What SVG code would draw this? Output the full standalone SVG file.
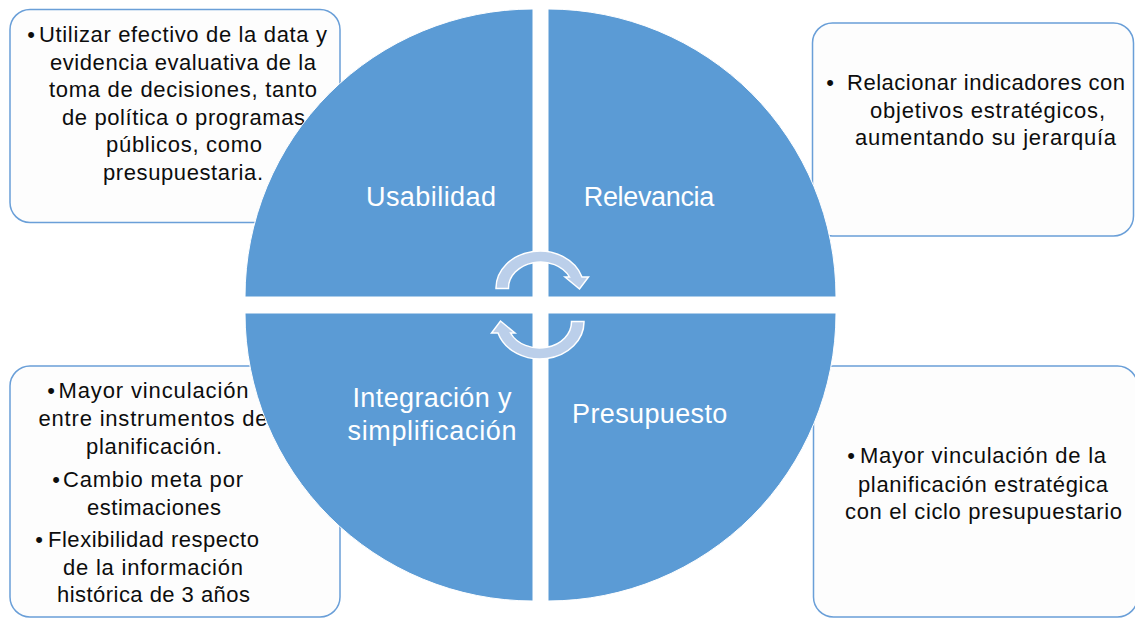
<svg xmlns="http://www.w3.org/2000/svg" width="1135" height="618" viewBox="0 0 1135 618">
<style>
.box{fill:#FDFDFD;stroke:#6A9FD8;stroke-width:1.5}
.quad{fill:#5B9BD5;stroke:#FFFFFF;stroke-width:1}
.t{font-family:"Liberation Sans",Arial,sans-serif;font-size:22px;fill:#0D0D0D;text-anchor:middle}
.q{font-family:"Liberation Sans",Arial,sans-serif;font-size:27px;fill:#FFFFFF;text-anchor:middle}
.arrow{fill:#BBCFEA;stroke:#FFFFFF;stroke-width:1.5;stroke-linejoin:miter}
</style>
<rect width="1135" height="618" fill="#FFFFFF"/>

<g id="box-usabilidad">
<rect class="box" x="10" y="9.5" width="330" height="213" rx="20"/>
<text class="t" x="31" y="42">•</text>
<text class="t" x="183" y="42" textLength="288" lengthAdjust="spacing">Utilizar efectivo de la data y</text>
<text class="t" x="183" y="69.5" textLength="266" lengthAdjust="spacing">evidencia evaluativa de la</text>
<text class="t" x="183" y="97" textLength="268" lengthAdjust="spacing">toma de decisiones, tanto</text>
<text class="t" x="183.5" y="124.5" textLength="243" lengthAdjust="spacing">de política o programas</text>
<text class="t" x="184" y="152" textLength="156" lengthAdjust="spacing">públicos, como</text>
<text class="t" x="183" y="179.5" textLength="160" lengthAdjust="spacing">presupuestaria.</text>
</g>

<g id="box-relevancia">
<rect class="box" x="812.5" y="23" width="321" height="213" rx="20"/>
<text class="t" x="830" y="90">•</text>
<text class="t" x="986" y="90" textLength="278" lengthAdjust="spacing">Relacionar indicadores con</text>
<text class="t" x="987.5" y="117.5" textLength="235" lengthAdjust="spacing">objetivos estratégicos,</text>
<text class="t" x="985.5" y="145" textLength="261" lengthAdjust="spacing">aumentando su jerarquía</text>
</g>

<g id="box-integracion">
<rect class="box" x="10" y="366" width="330" height="251" rx="20"/>
<text class="t" x="51" y="398">•</text>
<text class="t" x="153.5" y="398" textLength="190" lengthAdjust="spacing">Mayor vinculación</text>
<text class="t" x="153" y="426" textLength="229" lengthAdjust="spacing">entre instrumentos de</text>
<text class="t" x="154" y="454" textLength="136" lengthAdjust="spacing">planificación.</text>
<text class="t" x="56" y="486.5">•</text>
<text class="t" x="153" y="486.5" textLength="180" lengthAdjust="spacing">Cambio meta por</text>
<text class="t" x="154" y="515" textLength="134" lengthAdjust="spacing">estimaciones</text>
<text class="t" x="39" y="546.5">•</text>
<text class="t" x="153.5" y="546.5" textLength="211" lengthAdjust="spacing">Flexibilidad respecto</text>
<text class="t" x="153" y="575" textLength="180" lengthAdjust="spacing">de la información</text>
<text class="t" x="153.5" y="602" textLength="193" lengthAdjust="spacing">histórica de 3 años</text>
</g>

<g id="box-presupuesto">
<rect class="box" x="813.5" y="366" width="324" height="251" rx="20"/>
<text class="t" x="851" y="463">•</text>
<text class="t" x="983" y="463" textLength="246" lengthAdjust="spacing">Mayor vinculación de la</text>
<text class="t" x="983" y="491.5" textLength="250" lengthAdjust="spacing">planificación estratégica</text>
<text class="t" x="983.5" y="519" textLength="277" lengthAdjust="spacing">con el ciclo presupuestario</text>
</g>

<g id="quad-usabilidad">
<path class="quad" d="M533 297 L245 297 A288 288 0 0 1 533 9 Z"/>
<text class="q" x="431" y="205.5" textLength="130" lengthAdjust="spacing">Usabilidad</text>
</g>
<g id="quad-relevancia">
<path class="quad" d="M548 297 L548 9 A288 288 0 0 1 836 297 Z"/>
<text class="q" x="649" y="205.5" textLength="130.5" lengthAdjust="spacing">Relevancia</text>
</g>
<g id="quad-presupuesto">
<path class="quad" d="M548 313 L836 313 A288 288 0 0 1 548 601 Z"/>
<text class="q" x="649.7" y="423" textLength="155.4" lengthAdjust="spacing">Presupuesto</text>
</g>
<g id="quad-integracion">
<path class="quad" d="M533 313 L533 601 A288 288 0 0 1 245 313 Z"/>
<text class="q" x="432" y="407" textLength="159" lengthAdjust="spacing">Integración y</text>
<text class="q" x="432" y="440" textLength="169" lengthAdjust="spacing">simplificación</text>
</g>

<g id="connectors">
<path id="arrow-top" class="arrow" d="M496 288.5 A44 37 0 0 1 582 277 L588.5 277 L579.5 289 L565 277 L569.5 277 A32 26 0 0 0 508.5 288.5 Z"/>
<path id="arrow-bottom" class="arrow" transform="rotate(180 540 305)" d="M496 288.5 A44 37 0 0 1 582 277 L588.5 277 L579.5 289 L565 277 L569.5 277 A32 26 0 0 0 508.5 288.5 Z"/>
</g>
</svg>
